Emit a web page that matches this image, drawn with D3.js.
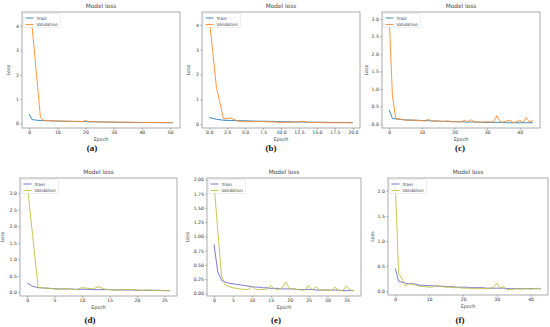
<!DOCTYPE html>
<html>
<head>
<meta charset="utf-8">
<script src="https://cdn.jsdelivr.net/npm/d3@7"></script>
<style>
  body { margin: 0; background: #fff; }
  svg { display: block; }
  .tick text { font-family: "DejaVu Sans", sans-serif; font-size: 4.6px; fill: #333; }
  .tick line { stroke: #555; stroke-width: 0.5; }
</style>
</head>
<body>
<script>
// valores (um ponto por época)
const trainA = [0.38, 0.16, 0.14, 0.13, 0.12, 0.12, 0.11, 0.11, 0.1, 0.1, 0.1, 0.095, 0.09, 0.09, 0.09, 0.085, 0.085, 0.08, 0.08, 0.08, 0.075, 0.07, 0.07, 0.07, 0.065, 0.065, 0.06, 0.06, 0.06, 0.055, 0.055, 0.05, 0.05, 0.05, 0.05, 0.045, 0.045, 0.045, 0.04, 0.04, 0.04, 0.04, 0.04, 0.035, 0.035, 0.035, 0.035, 0.03, 0.03, 0.03, 0.03, 0.03];
const valA = [4.35, 4.0, 2.75, 1.5, 0.25, 0.13, 0.12, 0.12, 0.11, 0.11, 0.1, 0.1, 0.1, 0.09, 0.09, 0.09, 0.08, 0.09, 0.08, 0.08, 0.12, 0.07, 0.07, 0.07, 0.07, 0.06, 0.06, 0.06, 0.06, 0.06, 0.05, 0.06, 0.05, 0.05, 0.05, 0.05, 0.05, 0.04, 0.05, 0.04, 0.04, 0.04, 0.04, 0.04, 0.04, 0.04, 0.04, 0.04, 0.04, 0.035, 0.04, 0.035];

const trainB = [0.27, 0.2, 0.16, 0.15, 0.14, 0.14, 0.13, 0.12, 0.12, 0.11, 0.1, 0.1, 0.09, 0.09, 0.08, 0.08, 0.08, 0.07, 0.07, 0.07, 0.06];
const valB = [4.3, 1.5, 0.22, 0.25, 0.12, 0.1, 0.1, 0.11, 0.1, 0.09, 0.07, 0.08, 0.08, 0.12, 0.07, 0.07, 0.06, 0.06, 0.06, 0.06, 0.06];

const trainC = [0.4, 0.15, 0.14, 0.13, 0.12, 0.11, 0.11, 0.1, 0.1, 0.1, 0.09, 0.09, 0.09, 0.08, 0.08, 0.08, 0.07, 0.07, 0.07, 0.06, 0.06, 0.06, 0.06, 0.05, 0.05, 0.05, 0.05, 0.05, 0.04, 0.04, 0.04, 0.04, 0.04, 0.04, 0.04, 0.03, 0.03, 0.03, 0.03, 0.03, 0.03, 0.03, 0.03, 0.03, 0.03];
const valC = [3.05, 0.8, 0.15, 0.14, 0.12, 0.1, 0.1, 0.11, 0.1, 0.09, 0.09, 0.08, 0.13, 0.08, 0.08, 0.07, 0.07, 0.07, 0.08, 0.06, 0.06, 0.06, 0.05, 0.1, 0.05, 0.12, 0.06, 0.05, 0.05, 0.05, 0.06, 0.05, 0.06, 0.23, 0.05, 0.05, 0.08, 0.1, 0.04, 0.05, 0.1, 0.04, 0.18, 0.05, 0.1];

const trainD = [0.28, 0.18, 0.14, 0.13, 0.12, 0.11, 0.1, 0.1, 0.1, 0.09, 0.09, 0.09, 0.08, 0.08, 0.08, 0.08, 0.07, 0.07, 0.07, 0.07, 0.06, 0.06, 0.06, 0.06, 0.06, 0.05, 0.05];
const valD = [3.3, 1.72, 0.15, 0.13, 0.12, 0.1, 0.09, 0.11, 0.09, 0.08, 0.14, 0.12, 0.1, 0.17, 0.1, 0.08, 0.07, 0.07, 0.09, 0.08, 0.07, 0.06, 0.07, 0.06, 0.05, 0.05, 0.05];

const trainE = [0.86, 0.38, 0.23, 0.2, 0.18, 0.17, 0.16, 0.15, 0.14, 0.13, 0.12, 0.11, 0.11, 0.1, 0.1, 0.09, 0.09, 0.09, 0.08, 0.08, 0.08, 0.08, 0.07, 0.07, 0.07, 0.07, 0.07, 0.06, 0.06, 0.06, 0.06, 0.06, 0.06, 0.06, 0.05, 0.05, 0.05, 0.05];
const valE = [1.93, 1.1, 0.3, 0.15, 0.12, 0.1, 0.09, 0.08, 0.07, 0.07, 0.12, 0.07, 0.07, 0.07, 0.08, 0.14, 0.08, 0.07, 0.1, 0.2, 0.08, 0.09, 0.07, 0.06, 0.06, 0.14, 0.06, 0.12, 0.06, 0.06, 0.06, 0.05, 0.11, 0.05, 0.05, 0.13, 0.06, 0.05];

const trainF = [0.45, 0.2, 0.18, 0.16, 0.15, 0.15, 0.14, 0.12, 0.12, 0.11, 0.11, 0.11, 0.1, 0.1, 0.1, 0.09, 0.09, 0.09, 0.08, 0.08, 0.08, 0.08, 0.07, 0.07, 0.07, 0.07, 0.07, 0.06, 0.06, 0.06, 0.06, 0.06, 0.06, 0.05, 0.05, 0.05, 0.05, 0.05, 0.05, 0.05, 0.05, 0.05, 0.05, 0.05];
const valF = [2.15, 0.35, 0.25, 0.1, 0.15, 0.14, 0.12, 0.1, 0.09, 0.09, 0.08, 0.08, 0.12, 0.1, 0.09, 0.08, 0.08, 0.07, 0.07, 0.07, 0.06, 0.06, 0.06, 0.05, 0.05, 0.05, 0.05, 0.05, 0.06, 0.07, 0.16, 0.06, 0.09, 0.03, 0.03, 0.04, 0.05, 0.04, 0.05, 0.05, 0.04, 0.05, 0.06, 0.04];

// rótulos dos eixos
const xTicksA = [0, 10, 20, 30, 40, 50];
const xTicksB = [0, 2.5, 5, 7.5, 10, 12.5, 15, 17.5, 20];
const xTicksC = [0, 10, 20, 30, 40];
const xTicksD = [0, 5, 10, 15, 20, 25];
const xTicksE = [0, 5, 10, 15, 20, 25, 30, 35];
const xTicksF = [0, 10, 20, 30, 40];
const yTicksAB = [0, 1, 2, 3, 4];
const yTicksCD = [0, 0.5, 1, 1.5, 2, 2.5, 3];
const yTicksE = [0, 0.25, 0.5, 0.75, 1, 1.25, 1.5, 1.75, 2];
const yTicksF = [0, 0.5, 1, 1.5, 2];
const seriesNames = ['Train', 'Validation'];
const captions = ['(a)', '(b)', '(c)', '(d)', '(e)', '(f)'];

// cores: primeira linha padrão matplotlib, segunda linha azul/oliva
const colorsTop = ['#2a7fb8', '#ff8a2a'];
const colorsBottom = ['#6a6ad2', '#c2c040'];

const svg = d3.select('body').append('svg')
  .attr('width', 550)
  .attr('height', 327);

// posição de cada painel
const panels = [
  { train: trainA, val: valA, xt: xTicksA, yt: yTicksAB, xf: d3.format('d'), yf: d3.format('d'), box: [22, 12, 180, 128], colors: colorsTop, cap: [92, 151], ylx: 12 },
  { train: trainB, val: valB, xt: xTicksB, yt: yTicksAB, xf: d3.format('.1f'), yf: d3.format('d'), box: [202, 12, 360, 128], colors: colorsTop, cap: [271, 151], ylx: 12 },
  { train: trainC, val: valC, xt: xTicksC, yt: yTicksCD, xf: d3.format('d'), yf: d3.format('.1f'), box: [382, 12, 540, 128], colors: colorsTop, cap: [460, 151], ylx: 14 },
  { train: trainD, val: valD, xt: xTicksD, yt: yTicksCD, xf: d3.format('d'), yf: d3.format('.1f'), box: [20, 178, 177, 296], colors: colorsBottom, cap: [90, 323], ylx: 16 },
  { train: trainE, val: valE, xt: xTicksE, yt: yTicksE, xf: d3.format('d'), yf: d3.format('.2f'), box: [207, 178, 361, 296], colors: colorsBottom, cap: [276, 323], ylx: 18 },
  { train: trainF, val: valF, xt: xTicksF, yt: yTicksF, xf: d3.format('d'), yf: d3.format('.1f'), box: [388, 178, 548, 295], colors: colorsBottom, cap: [460, 323], ylx: 14 }
];

panels.forEach(function(p, i) {
  const [x0, y0, x1, y1] = p.box;
  const n = p.train.length;

  // margens de 5% como no matplotlib
  const xspan = n - 1;
  const x = d3.scaleLinear()
    .domain([-0.05 * xspan, (n - 1) + 0.05 * xspan])
    .range([x0, x1]);
  const all = p.train.concat(p.val);
  const ymin = d3.min(all), ymax = d3.max(all);
  const yspan = ymax - ymin;
  const y = d3.scaleLinear()
    .domain([ymin - 0.05 * yspan, ymax + 0.05 * yspan])
    .range([y1, y0]);

  const g = svg.append('g');

  const line = d3.line()
    .x(function(d, j) { return x(j); })
    .y(function(d) { return y(d); });

  const clipId = 'clip' + i;
  svg.append('clipPath').attr('id', clipId)
    .append('rect').attr('x', x0).attr('y', y0).attr('width', x1 - x0).attr('height', y1 - y0);

  [p.train, p.val].forEach(function(s, k) {
    g.append('path')
      .datum(s)
      .attr('clip-path', 'url(#' + clipId + ')')
      .attr('fill', 'none')
      .attr('stroke', p.colors[k])
      .attr('stroke-width', 0.9)
      .attr('d', line);
  });

  // eixos
  const yd = y.domain();
  g.append('g')
    .attr('transform', 'translate(0,' + y1 + ')')
    .call(d3.axisBottom(x).tickValues(p.xt).tickFormat(p.xf).tickSize(1.6).tickPadding(1.5))
    .call(function(a) { a.select('.domain').remove(); });
  g.append('g')
    .attr('transform', 'translate(' + x0 + ',0)')
    .call(d3.axisLeft(y).tickValues(p.yt.filter(function(v) { return v >= yd[0] && v <= yd[1]; }))
      .tickFormat(p.yf).tickSize(1.6).tickPadding(1.5))
    .call(function(a) { a.select('.domain').remove(); });

  g.append('rect')
    .attr('x', x0).attr('y', y0)
    .attr('width', x1 - x0).attr('height', y1 - y0)
    .attr('fill', 'none')
    .attr('stroke', '#888')
    .attr('stroke-width', 0.7);

  // título e rótulos
  g.append('text')
    .attr('x', (x0 + x1) / 2).attr('y', y0 - 4)
    .attr('text-anchor', 'middle')
    .style('font-family', 'DejaVu Sans, sans-serif')
    .style('font-size', '5.8px')
    .attr('fill', '#444')
    .text('Model loss');

  g.append('text')
    .attr('x', (x0 + x1) / 2).attr('y', y1 + 13)
    .attr('text-anchor', 'middle')
    .style('font-family', 'DejaVu Sans, sans-serif')
    .style('font-size', '4.8px')
    .attr('fill', '#444')
    .text('Epoch');

  g.append('text')
    .attr('transform', 'translate(' + (x0 - p.ylx) + ',' + ((y0 + y1) / 2) + ') rotate(-90)')
    .attr('text-anchor', 'middle')
    .style('font-family', 'DejaVu Sans, sans-serif')
    .style('font-size', '4.8px')
    .attr('fill', '#444')
    .text('Loss');

  // legenda
  const lg = g.append('g').attr('transform', 'translate(' + (x0 + 1.5) + ',' + (y0 + 1.5) + ')');
  lg.append('rect')
    .attr('width', 37).attr('height', 14).attr('rx', 1)
    .attr('fill', '#fff').attr('fill-opacity', 0.8)
    .attr('stroke', '#ddd').attr('stroke-width', 0.5);
  seriesNames.forEach(function(name, k) {
    const ly = 4.5 + k * 6.5;
    lg.append('line')
      .attr('x1', 2).attr('x2', 10).attr('y1', ly).attr('y2', ly)
      .attr('stroke', p.colors[k]).attr('stroke-width', 0.9);
    lg.append('text')
      .attr('x', 13).attr('y', ly + 1.5)
      .style('font-family', 'DejaVu Sans, sans-serif')
      .style('font-size', '4.3px')
      .attr('fill', '#444')
      .text(name);
  });

  // legenda do painel (a), (b), ...
  svg.append('text')
    .attr('x', p.cap[0]).attr('y', p.cap[1])
    .attr('text-anchor', 'middle')
    .style('font-family', 'Liberation Serif, serif')
    .style('font-weight', 'bold')
    .style('font-size', '9px')
    .attr('fill', '#111')
    .text(captions[i]);
});
</script>
</body>
</html>
